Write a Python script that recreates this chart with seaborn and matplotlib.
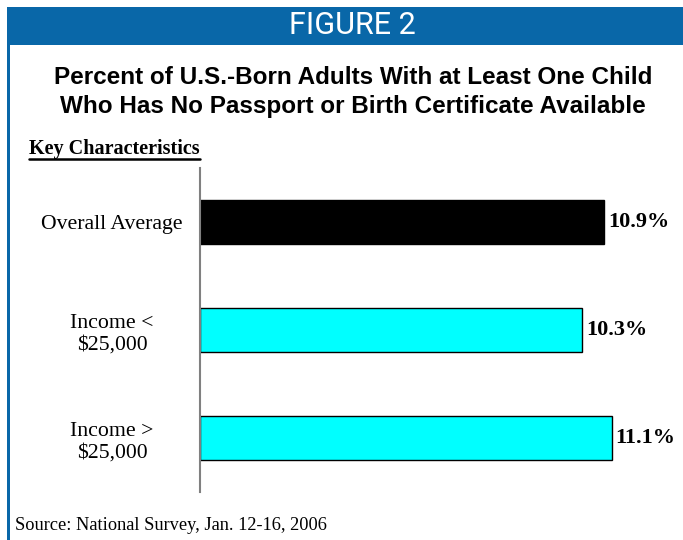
import matplotlib
matplotlib.use("Agg")
import matplotlib.pyplot as plt
import seaborn as sns
import pandas as pd
from matplotlib.patches import Rectangle
from matplotlib.lines import Line2D
from matplotlib.transforms import ScaledTranslation

# data
categories = ["Overall Average", "Income <\n$25,000", "Income >\n$25,000"]
values = [10.9, 10.3, 11.1]
bar_colors = ["#000000", "#00FFFF", "#00FFFF"]

sns.set_style("white")
plt.rcParams["font.family"] = ["Liberation Serif", "DejaVu Serif"]
plt.rcParams["text.color"] = "black"
plt.rcParams["ytick.color"] = "black"
plt.rcParams["ytick.labelcolor"] = "black"

W, H = 683, 540
fig = plt.figure(figsize=(W / 100, H / 100), dpi=100)

# header banner + left border
blue = "#0967A8"
fig.add_artist(Rectangle((7 / W, 1 - 45 / H), 1 - 7 / W, 38 / H,
                         transform=fig.transFigure, color=blue, lw=0))
fig.add_artist(Rectangle((7 / W, 0), 2.5 / W, 1 - 45 / H,
                         transform=fig.transFigure, color=blue, lw=0))
fig.text(352 / W, 1 - 26 / H, "FIGURE 2", color="white", fontsize=22,
         family=["Liberation Sans Narrow", "Roboto", "DejaVu Sans"],
         ha="center", va="center")

fig.text(353 / W, 1 - 92 / H,
         "Percent of U.S.-Born Adults With at Least One Child\n"
         "Who Has No Passport or Birth Certificate Available",
         family=["Liberation Sans", "DejaVu Sans"], fontsize=17.5, fontweight="bold",
         ha="center", va="center", linespacing=1.3)

fig.text(29 / W, 1 - 149 / H, "Key Characteristics", fontsize=14.5,
         fontweight="bold", ha="left", va="center")
fig.add_artist(Line2D([29 / W, 200 / W], [1 - 159 / H, 1 - 159 / H],
                      transform=fig.transFigure, color="black", lw=1.8))

fig.text(15 / W, 1 - 525 / H, "Source: National Survey, Jan. 12-16, 2006",
         fontsize=13.2, ha="left", va="center")

ax = fig.add_axes([200 / W, 1 - 492 / H, (W - 200) / W, 324 / H])
df = pd.DataFrame({"cat": categories, "val": values})
sns.barplot(data=df, y="cat", x="val", hue="cat", palette=bar_colors,
            saturation=1, legend=False, orient="h", width=0.405,
            edgecolor="black", linewidth=1, ax=ax)

ax.set_xlim(0, (W - 200) / 37.1)
ax.set_ylim(2.5, -0.5)
for i, v in enumerate(values):
    ax.text(v + 0.1, i, f"{v:.1f}%", fontsize=16, fontweight="bold",
            ha="left", va="center")

ax.set_xlabel("")
ax.set_ylabel("")
ax.set_xticks([])
ax.tick_params(axis="y", length=0, pad=0, labelsize=15.7)
for s in ["top", "right", "bottom"]:
    ax.spines[s].set_visible(False)
ax.spines["left"].set_color("#808080")
ax.spines["left"].set_linewidth(1.5)
ax.patch.set_alpha(0)

# center the tick labels around x~112px
offset = ScaledTranslation(-88 / 100, 0, fig.dpi_scale_trans)
for lab in ax.get_yticklabels():
    lab.set_horizontalalignment("center")
    lab.set_linespacing(1.25)
    lab.set_transform(lab.get_transform() + offset)

fig.savefig("out.png", dpi=100)
